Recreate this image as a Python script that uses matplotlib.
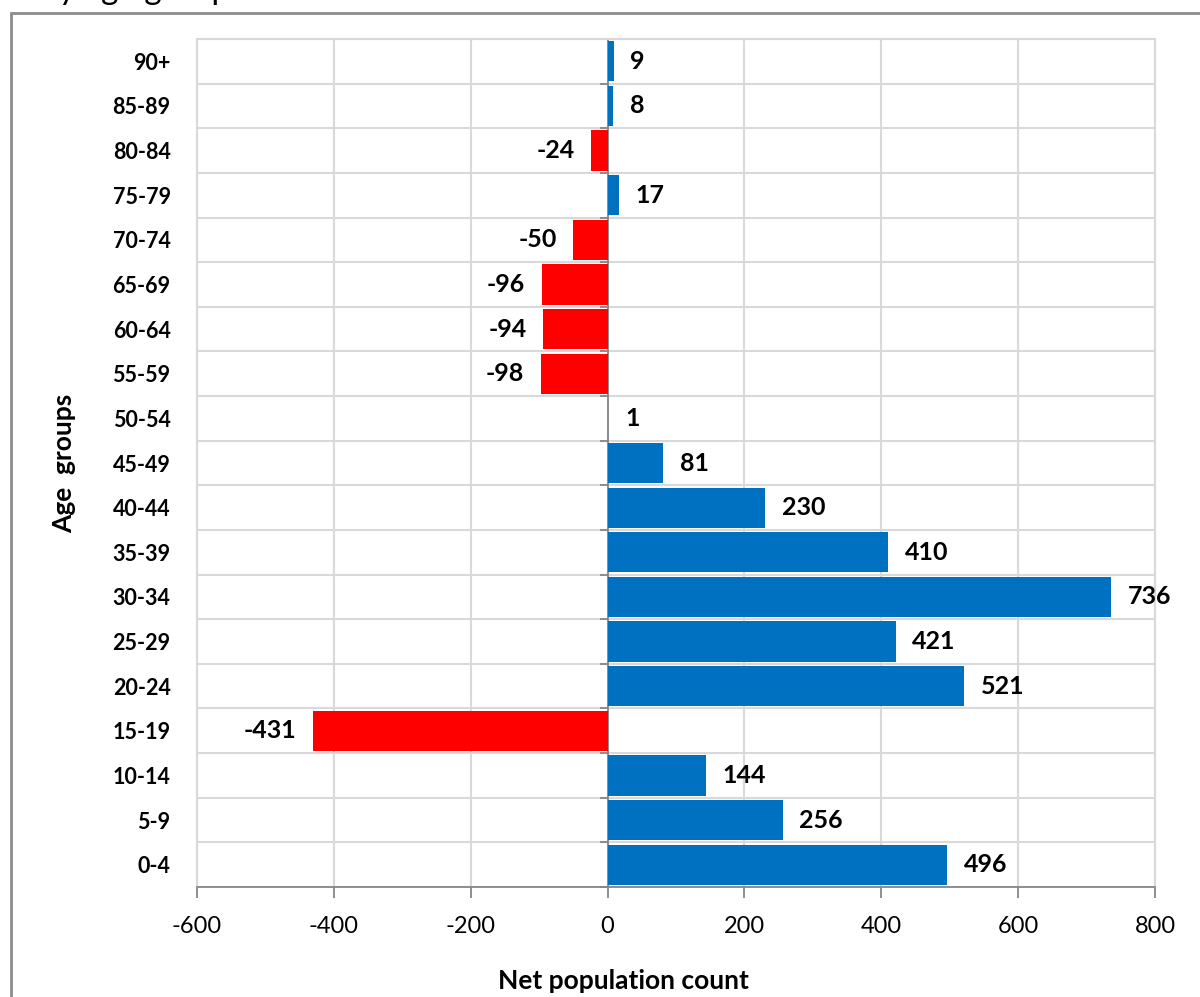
import matplotlib.pyplot as plt
import numpy as np
from matplotlib.patches import Rectangle

plt.rcParams['font.family'] = ['Lato', 'DejaVu Sans']

# Дані
age_groups = ['0-4', '5-9', '10-14', '15-19', '20-24', '25-29', '30-34', '35-39',
              '40-44', '45-49', '50-54', '55-59', '60-64', '65-69', '70-74',
              '75-79', '80-84', '85-89', '90+']
net_count = [496, 256, 144, -431, 521, 421, 736, 410, 230, 81, 1,
             -98, -94, -96, -50, 17, -24, 8, 9]

x_ticks = [-600, -400, -200, 0, 200, 400, 600, 800]

fig = plt.figure(figsize=(12, 9.97), dpi=100)
ax = fig.add_axes([0.1642, 0.1103, 0.7983, 0.8506])

y = np.arange(len(age_groups))
colors = ['#0070C0' if v >= 0 else '#FF0000' for v in net_count]
ax.barh(y, net_count, height=0.9, color=colors, zorder=3)

# Підписи значень
for yi, v in zip(y, net_count):
    if v >= 0:
        ax.annotate(str(v), (v, yi), xytext=(12, 0), textcoords='offset points',
                    ha='left', va='center', fontsize=18, fontweight='bold', zorder=4)
    else:
        ax.annotate(str(v), (v, yi), xytext=(-12, 0), textcoords='offset points',
                    ha='right', va='center', fontsize=18, fontweight='bold', zorder=4)

ax.set_xlim(-600, 800)
ax.set_ylim(-0.5, len(age_groups) - 0.5)
ax.set_xticks(x_ticks)
ax.set_xticklabels([str(t) for t in x_ticks], fontsize=17)
ax.set_yticks(y)
ax.set_yticklabels(age_groups, fontsize=15.5, fontweight='bold')
ax.set_yticks(np.arange(-0.5, len(age_groups), 1), minor=True)

# Сітка
grid_c = '#d9d9d9'
ax.grid(axis='x', which='major', color=grid_c, linewidth=1.5, zorder=0)
ax.grid(axis='y', which='minor', color=grid_c, linewidth=1.5, zorder=0)
ax.tick_params(axis='y', which='both', length=0, pad=19)
ax.tick_params(axis='x', which='major', length=8, width=1.3, color='#868686',
               direction='out', pad=13)

for s in ['left', 'top', 'right']:
    ax.spines[s].set_color(grid_c)
    ax.spines[s].set_linewidth(1.5)
ax.spines['bottom'].set_color('#868686')
ax.spines['bottom'].set_linewidth(1.3)

# Вісь на нулі з рисками
ax.axvline(0, color='#868686', linewidth=1.3, zorder=2)
ax.hlines(np.arange(-0.5, len(age_groups), 1), -11, 0, color='#868686',
          linewidth=1.3, zorder=2, clip_on=False)

ax.set_xlabel('Net population count', fontsize=19, fontweight='bold', labelpad=20)
ax.xaxis.set_label_coords(0.445, -0.097)
ax.set_ylabel('Age  groups', fontsize=19, fontweight='bold', labelpad=26)

# Рамка діаграми та обрізаний заголовок
fig.patches.append(Rectangle((11 / 1200, -0.01), 1.1, 1 - 13 / 997 + 0.01,
                             transform=fig.transFigure, fill=False,
                             edgecolor='#8c8c8c', linewidth=2))
fig.text(40 / 1200, 1 + 1 / 997, 'by age groups', fontsize=24, ha='left',
         va='baseline')

fig.savefig('out.png', dpi=100)
